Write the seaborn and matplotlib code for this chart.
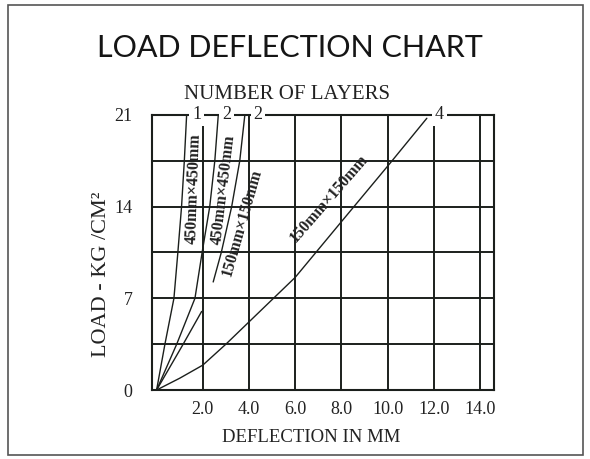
import numpy as np
import pandas as pd
import matplotlib
matplotlib.use('Agg')
import matplotlib.pyplot as plt
import seaborn as sns
from matplotlib.patches import Rectangle

# curves (deflection mm, load kg/cm2)
c1_x = [0, 0.36, 0.75, 0.92, 1.08, 1.2, 1.3]
c1_y = [0, 3.5, 7, 10.5, 14, 17.5, 21]
c2_x = [0, 0.87, 1.66, 1.97, 2.3, 2.52, 2.67]
c2_y = [0, 3.5, 7, 10.5, 14, 17.5, 21]
c3a_x = [0, 1.15, 1.95]
c3a_y = [0, 3.5, 6.0]
c3b_x = [2.45, 2.8, 3.25, 3.6, 3.82]
c3b_y = [8.25, 10.5, 14, 17.5, 21]
c4_x = [0, 1, 2, 3, 4, 6, 8, 10.1, 11.7]
c4_y = [0, 0.9, 1.9, 3.5, 5.2, 8.6, 12.85, 17.3, 20.75]

x_ticks = [2, 4, 6, 8, 10, 12, 14]
x_labels = ['2.0', '4.0', '6.0', '8.0', '10.0', '12.0', '14.0']
y_ticks = [0, 7, 14, 21]
y_minor = [3.5, 10.5, 17.5]

layer_labels = ['1', '2', '2', '4']
layer_pos = [1.73, 3.03, 4.38, 12.25]

size_labels = ['450mm×450mm', '450mm×450mm', '150mm×150mm', '150mm×150mm']
size_pos = [(1.6, 15.35), (2.9, 15.3), (3.72, 12.75), (7.45, 14.6)]
size_rot = [88, 83, 74, 49]

sns.set_style('white')
plt.rcParams['font.family'] = ['Liberation Serif', 'DejaVu Serif']

ink = '#1b1f1c'
txt = '#222222'
fig = plt.figure(figsize=(5.9, 4.59), dpi=100)
ax = fig.add_axes([0.2576, 0.1503, 0.837 - 0.2576, 0.7495 - 0.1503])

for xs, ys in [(c1_x, c1_y), (c2_x, c2_y), (c3a_x, c3a_y), (c3b_x, c3b_y), (c4_x, c4_y)]:
    df = pd.DataFrame({'x': xs, 'y': ys})
    sns.lineplot(data=df, x='x', y='y', ax=ax, color=ink, lw=1.0, sort=False,
                 estimator=None)

ax.set_xlim(-0.2, 14.6)
ax.set_ylim(0, 21)
ax.set_xticks(x_ticks)
ax.set_xticklabels(x_labels)
ax.set_yticks(y_ticks)
ax.set_yticks(y_minor, minor=True)
ax.grid(True, which='both', color=ink, lw=1.4)
ax.tick_params(axis='both', which='both', length=0, labelsize=13, colors=txt)
ax.tick_params(axis='y', pad=14)
ax.tick_params(axis='x', pad=8)
for s in ax.spines.values():
    s.set_color(ink)
    s.set_linewidth(1.5)

ax.set_xlabel('DEFLECTION IN MM', fontsize=13.5, color=txt)
ax.xaxis.set_label_coords(0.465, -0.14)
ax.set_ylabel('LOAD - KG /CM²', fontsize=16, color=txt)
ax.yaxis.set_label_coords(-0.12, 0.42)

for lab, xp in zip(layer_labels, layer_pos):
    ax.text(xp, 21, lab, ha='center', va='center', fontsize=13, color=txt,
            bbox=dict(facecolor='white', edgecolor='none', pad=2), zorder=5)

for lab, (xp, yp), r in zip(size_labels, size_pos, size_rot):
    ax.text(xp, yp, lab, ha='center', va='center', rotation=r,
            rotation_mode='anchor', fontsize=11.5, fontweight='bold', color=txt,
            zorder=4)

ax.text(0.395, 1.075, 'NUMBER OF LAYERS', transform=ax.transAxes, ha='center',
        va='center', fontsize=15, color=txt)

fig.text(0.492, 1 - 48 / 459, 'LOAD DEFLECTION CHART', ha='center', va='center',
         fontsize=22, color='#151515', family=['Lato', 'DejaVu Sans'])

fig.patches.append(Rectangle((8 / 590, 1 - 455 / 459), 575 / 590, 450 / 459,
                             transform=fig.transFigure, fill=False,
                             edgecolor='#555555', lw=1.2))

fig.savefig('out.png', dpi=100)
